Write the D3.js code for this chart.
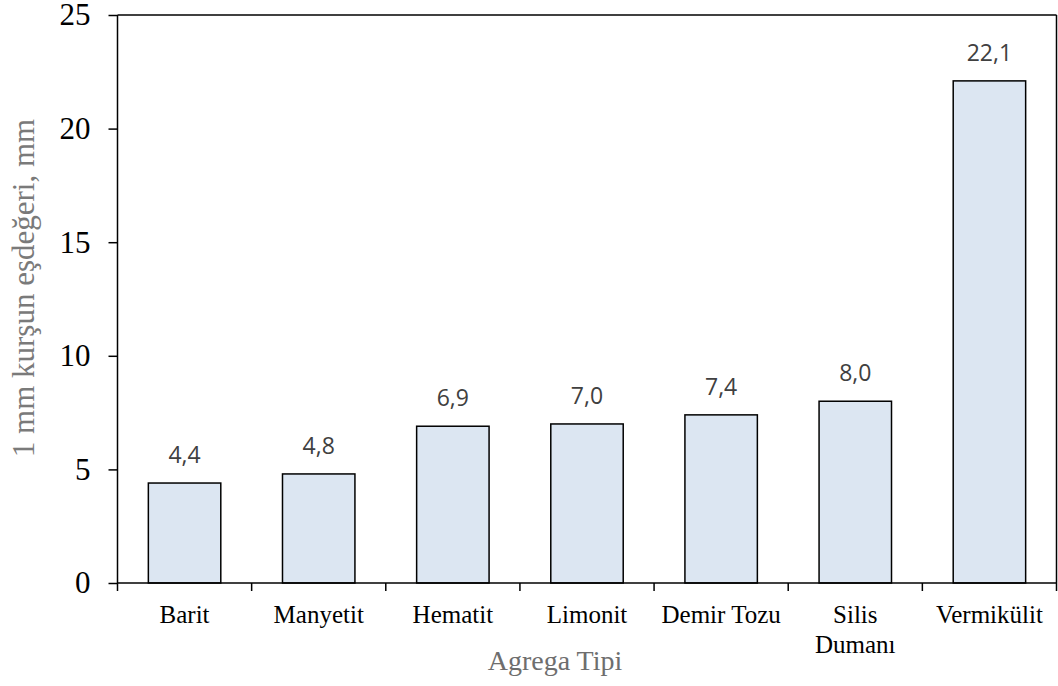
<!DOCTYPE html>
<html>
<head>
<meta charset="utf-8">
<script src="https://cdn.jsdelivr.net/npm/d3@7"></script>
<style>
  body { margin: 0; background: #fff; }
</style>
</head>
<body>
<div id="chart"></div>
<script>
  // values
  var categories = ["Barit", "Manyetit", "Hematit", "Limonit", "Demir Tozu", "Silis Dumanı", "Vermikülit"];
  var values = [4.4, 4.8, 6.9, 7.0, 7.4, 8.0, 22.1];
  var yTicks = [0, 5, 10, 15, 20, 25];
  var yTitle = "1 mm kurşun eşdeğeri, mm";
  var xTitle = "Agrega Tipi";

  var width = 1058, height = 686;
  var plotLeft = 117.5, plotRight = 1056.5, plotTop = 15, plotBottom = 583;

  var data = categories.map(function (c, i) { return { name: c, value: values[i] }; });

  var svg = d3.select("#chart").append("svg")
    .attr("width", width)
    .attr("height", height);

  // scales
  var xBand = d3.scaleBand().domain(categories).range([plotLeft, plotRight]).padding(0);
  var xBar = d3.scaleBand().domain(categories).range([plotLeft, plotRight])
    .paddingInner(0.46).paddingOuter(0.23);
  var yScale = d3.scaleLinear().domain([0, 25]).range([plotBottom, plotTop]);

  // frame top / right
  svg.append("line").attr("x1", plotLeft).attr("x2", plotRight).attr("y1", plotTop).attr("y2", plotTop)
    .attr("stroke", "#000").attr("stroke-width", 1.5);
  svg.append("line").attr("x1", plotRight).attr("x2", plotRight).attr("y1", plotTop).attr("y2", plotBottom)
    .attr("stroke", "#000").attr("stroke-width", 1.5);

  // bars
  svg.selectAll(".bar").data(data).enter()
    .append("rect")
    .attr("class", "bar")
    .attr("x", function (d) { return xBar(d.name); })
    .attr("y", function (d) { return yScale(d.value); })
    .attr("width", xBar.bandwidth())
    .attr("height", function (d) { return yScale(0) - yScale(d.value); })
    .style("fill", "#dce6f2")
    .style("stroke", "#000")
    .style("stroke-width", 1.5);

  // value labels
  svg.selectAll(".val").data(data).enter()
    .append("text")
    .attr("x", function (d) { return xBar(d.name) + xBar.bandwidth() / 2; })
    .attr("y", function (d) { return yScale(d.value) - 20; })
    .attr("text-anchor", "middle")
    .attr("font-family", "'Open Sans', sans-serif")
    .attr("font-size", "23px")
    .attr("fill", "#404040")
    .text(function (d) { return d.value.toFixed(1).replace(".", ","); });

  // y axis
  var yAxis = svg.append("g")
    .attr("transform", "translate(" + plotLeft + ",0)")
    .call(d3.axisLeft(yScale).tickValues(yTicks).tickSize(9).tickPadding(18).tickFormat(function (d) { return d; }));
  yAxis.selectAll("path, line").attr("stroke", "#000").attr("stroke-width", 1.5);
  yAxis.selectAll("text")
    .attr("font-family", "'Liberation Serif', 'Times New Roman', serif")
    .attr("font-size", "31px")
    .attr("fill", "#000");
  yAxis.select(".domain").attr("d", "M0," + plotBottom + "V" + plotTop);

  // x axis: ticks on band edges
  var xAxis = svg.append("g");
  xAxis.append("line").attr("x1", plotLeft).attr("x2", plotRight).attr("y1", plotBottom).attr("y2", plotBottom)
    .attr("stroke", "#000").attr("stroke-width", 1.5);
  var edges = categories.map(function (c) { return xBand(c); }).concat([xBand(categories[categories.length - 1]) + xBand.bandwidth()]);
  xAxis.selectAll(".xt").data(edges).enter()
    .append("line")
    .attr("x1", function (d) { return d; })
    .attr("x2", function (d) { return d; })
    .attr("y1", plotBottom)
    .attr("y2", plotBottom + 8)
    .attr("stroke", "#000").attr("stroke-width", 1.5);

  var wrapped = { "Silis Dumanı": ["Silis", "Dumanı"] };
  var catText = xAxis.selectAll(".cat").data(categories).enter()
    .append("text")
    .attr("text-anchor", "middle")
    .attr("font-family", "'Liberation Serif', 'Times New Roman', serif")
    .attr("font-size", "25px")
    .attr("fill", "#000");
  catText.each(function (c) {
    var lines = wrapped[c] || [c];
    var t = d3.select(this);
    lines.forEach(function (l, i) {
      t.append("tspan")
        .attr("x", xBand(c) + xBand.bandwidth() / 2)
        .attr("y", 623 + i * 30)
        .text(l);
    });
  });

  // axis titles
  svg.append("text")
    .attr("transform", "translate(33.5," + 288 + ") rotate(-90)")
    .attr("text-anchor", "middle")
    .attr("font-family", "'Liberation Serif', 'Times New Roman', serif")
    .attr("font-size", "31px")
    .attr("fill", "#7a7a7a")
    .text(yTitle);

  svg.append("text")
    .attr("x", 555)
    .attr("y", 670)
    .attr("text-anchor", "middle")
    .attr("font-family", "'Liberation Serif', 'Times New Roman', serif")
    .attr("font-size", "28px")
    .attr("fill", "#6e6e6e")
    .text(xTitle);
</script>
</body>
</html>
